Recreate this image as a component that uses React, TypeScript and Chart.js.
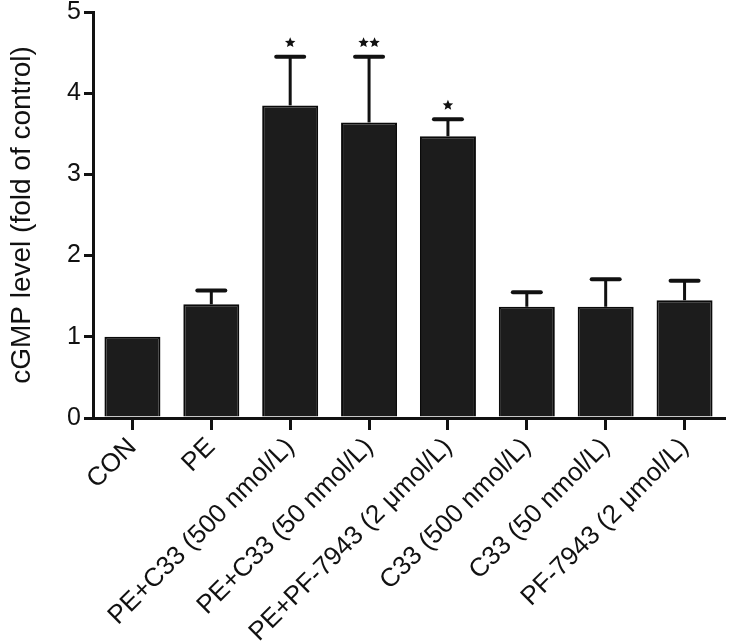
import React, { useEffect, useRef } from 'react';
import { Chart, registerables } from 'chart.js';

Chart.register(...registerables);

const categories = [
  'CON',
  'PE',
  'PE+C33 (500 nmol/L)',
  'PE+C33 (50 nmol/L)',
  'PE+PF-7943 (2 μmol/L)',
  'C33 (500 nmol/L)',
  'C33 (50 nmol/L)',
  'PF-7943 (2 μmol/L)',
];
const means = [1.0, 1.4, 3.85, 3.64, 3.47, 1.37, 1.37, 1.45];
const errors = [0, 0.17, 0.6, 0.81, 0.21, 0.18, 0.34, 0.24];
const marks = ['', '', '*', '**', '*', '', '', ''];
const yTicks = [0, 1, 2, 3, 4, 5];

const FONT = '"Liberation Sans", Arial, Helvetica, sans-serif';

function drawStar(ctx: CanvasRenderingContext2D, cx: number, cy: number, r: number) {
  ctx.beginPath();
  for (let k = 0; k < 10; k++) {
    const rad = k % 2 === 0 ? r : r * 0.45;
    const a = -Math.PI / 2 + (k * Math.PI) / 5;
    const px = cx + rad * Math.cos(a);
    const py = cy + rad * Math.sin(a);
    if (k === 0) ctx.moveTo(px, py);
    else ctx.lineTo(px, py);
  }
  ctx.closePath();
  ctx.fill();
}

const errorBarPlugin = {
  id: 'errorBars',
  afterDatasetsDraw(chart: any) {
    const { ctx } = chart;
    const y = chart.scales.y;
    const meta = chart.getDatasetMeta(0);
    ctx.save();
    ctx.strokeStyle = '#111';
    ctx.fillStyle = '#111';
    meta.data.forEach((bar: any, i: number) => {
      const x = bar.x;
      const err = errors[i];
      const y0 = y.getPixelForValue(means[i]);
      const y1 = y.getPixelForValue(means[i] + err);
      if (err > 0) {
        ctx.lineWidth = 3;
        ctx.lineCap = 'butt';
        ctx.beginPath();
        ctx.moveTo(x, y0);
        ctx.lineTo(x, y1);
        ctx.stroke();
        ctx.lineWidth = 4;
        ctx.lineCap = 'round';
        ctx.beginPath();
        ctx.moveTo(x - 14, y1);
        ctx.lineTo(x + 14, y1);
        ctx.stroke();
      }
      const n = marks[i].length;
      for (let k = 0; k < n; k++) {
        const cx = x + (k - (n - 1) / 2) * 11;
        drawStar(ctx, cx, y1 - 14, 5.5);
      }
    });
    ctx.restore();
  },
};

export default function App() {
  const ref = useRef<HTMLCanvasElement | null>(null);

  useEffect(() => {
    if (!ref.current) return;
    const chart = new Chart(ref.current, {
      type: 'bar',
      data: {
        labels: categories,
        datasets: [
          {
            data: means,
            backgroundColor: '#1c1c1c',
            borderColor: '#0a0a0a',
            borderWidth: 2,
            categoryPercentage: 1,
            barPercentage: 0.71,
          },
        ],
      },
      options: {
        responsive: false,
        animation: false,
        layout: { padding: { top: 0, right: 5, bottom: 0, left: 0 } },
        plugins: {
          legend: { display: false },
          tooltip: { enabled: false },
        },
        scales: {
          x: {
            offset: true,
            grid: {
              offset: false,
              drawOnChartArea: false,
              drawTicks: true,
              tickLength: 12,
              color: '#111',
              lineWidth: 3,
            },
            border: { display: true, color: '#111', width: 3 },
            ticks: {
              autoSkip: false,
              minRotation: 45,
              maxRotation: 45,
              padding: 2,
              color: '#111',
              font: { family: FONT, size: 26 },
            },
            afterFit(scale: any) {
              scale.height = 226;
              scale.paddingLeft = 0;
              scale.paddingRight = 0;
            },
          },
          y: {
            min: 0,
            max: 5,
            grid: {
              drawOnChartArea: false,
              drawTicks: true,
              tickLength: 9,
              color: '#111',
              lineWidth: 3,
            },
            border: { display: true, color: '#111', width: 3 },
            ticks: {
              padding: 3,
              color: '#111',
              font: { family: FONT, size: 25 },
            },
            afterBuildTicks(scale: any) {
              scale.ticks = yTicks.map((v) => ({ value: v }));
            },
            title: {
              display: true,
              text: 'cGMP level (fold of control)',
              color: '#111',
              font: { family: FONT, size: 28 },
              padding: { top: 5, bottom: 0 },
            },
            afterFit(scale: any) {
              scale.width = 93;
              scale.paddingTop = 12;
              scale.paddingBottom = 0;
            },
          },
        },
      },
      plugins: [errorBarPlugin],
    });
    return () => chart.destroy();
  }, []);

  return (
    <div style={{ position: 'absolute', left: 0, top: 0, width: 729, height: 644, background: '#fff' }}>
      <canvas ref={ref} width={729} height={644} style={{ display: 'block' }} />
    </div>
  );
}
